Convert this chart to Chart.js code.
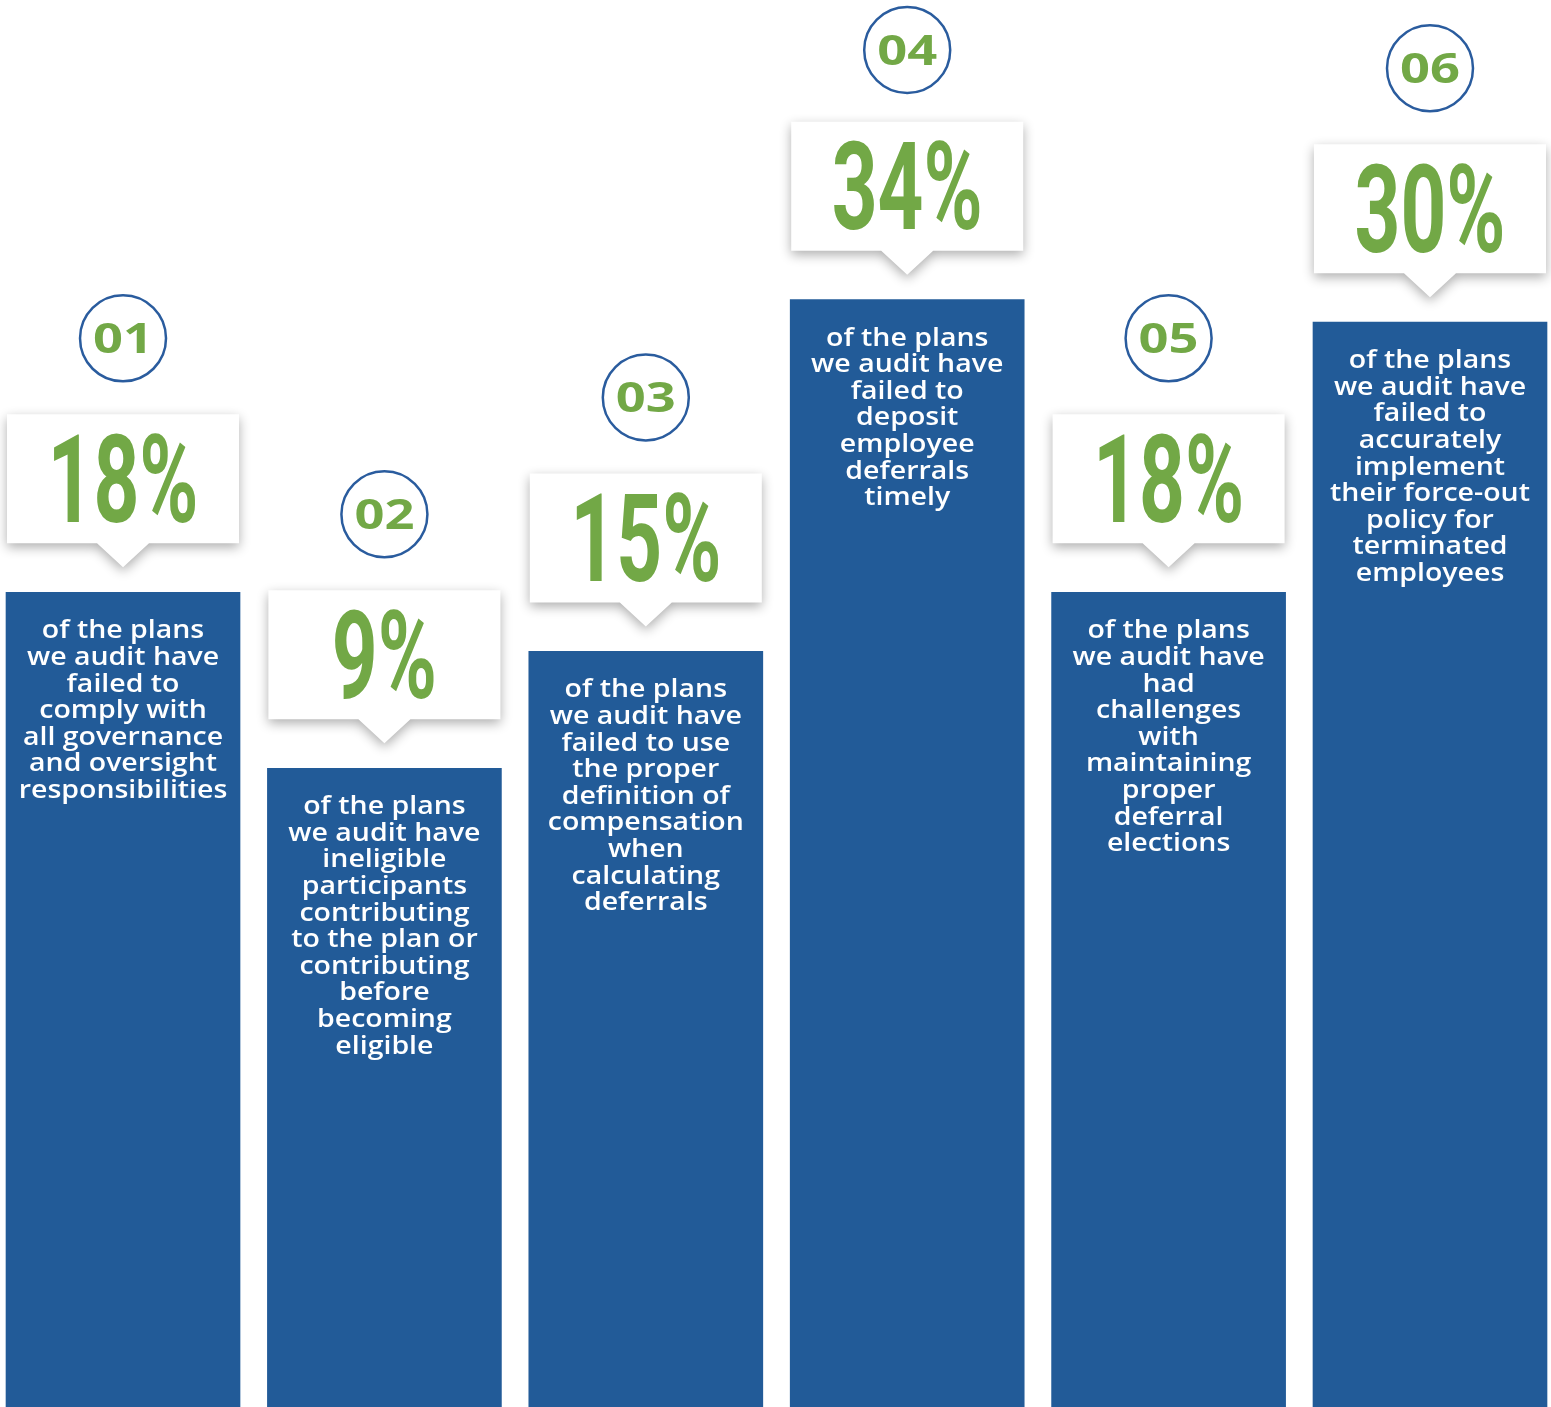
<!DOCTYPE html>
<html>
<head>
<meta charset="utf-8">
<script src="https://cdn.jsdelivr.net/npm/chart.js@4.4.1/dist/chart.umd.min.js"></script>
<style>
  html, body { margin: 0; padding: 0; background: #ffffff; }
  #wrap { width: 1551px; height: 1407px; }
</style>
</head>
<body>
<div id="wrap"><canvas id="auditChart" width="1551" height="1407"></canvas></div>
<script>
// step badges, headline percentages and column heights (0-100 of the picture height)
const stepNumbers = ['01', '02', '03', '04', '05', '06'];
const percentValues = [18, 9, 15, 34, 18, 30];
const barLevels = [57.9, 45.4, 53.7, 78.7, 57.9, 77.1];
const descriptions = [
  ['of the plans', 'we audit have', 'failed to', 'comply with', 'all governance', 'and oversight', 'responsibilities'],
  ['of the plans', 'we audit have', 'ineligible', 'participants', 'contributing', 'to the plan or', 'contributing', 'before', 'becoming', 'eligible'],
  ['of the plans', 'we audit have', 'failed to use', 'the proper', 'definition of', 'compensation', 'when', 'calculating', 'deferrals'],
  ['of the plans', 'we audit have', 'failed to', 'deposit', 'employee', 'deferrals', 'timely'],
  ['of the plans', 'we audit have', 'had', 'challenges', 'with', 'maintaining', 'proper', 'deferral', 'elections'],
  ['of the plans', 'we audit have', 'failed to', 'accurately', 'implement', 'their force-out', 'policy for', 'terminated', 'employees']
];

const BLUE = '#225b98';
const GREEN = '#72a846';
const RING = '#2a5c9e';

const BODY_FONT = '600 26px "Open Sans"';
const PCT_FONT = '700 122px Roboto';
const NUM_FONT = '700 41px "Open Sans"';

function scaledText(ctx, text, x, y, sx) {
  ctx.save();
  ctx.translate(x, y);
  ctx.scale(sx, 1);
  ctx.fillText(text, 0, 0);
  ctx.restore();
}

const calloutPlugin = {
  id: 'callouts',
  afterDatasetsDraw(chart) {
    const ctx = chart.ctx;
    const meta = chart.getDatasetMeta(0);

    ctx.save();
    ctx.font = BODY_FONT;
    const bodyScale = 196 / ctx.measureText('compensation').width;
    ctx.font = PCT_FONT;
    const pctScale = 151 / ctx.measureText('18%').width;
    ctx.font = NUM_FONT;
    const numScale = 60 / ctx.measureText('04').width;
    ctx.restore();

    meta.data.forEach((bar, i) => {
      const cx = bar.x;
      const top = bar.y;

      // text inside the column
      ctx.save();
      ctx.fillStyle = '#ffffff';
      ctx.font = BODY_FONT;
      ctx.textAlign = 'center';
      ctx.textBaseline = 'alphabetic';
      descriptions[i].forEach((line, j) => {
        scaledText(ctx, line, cx, top + 46 + j * 26.6, bodyScale);
      });
      ctx.restore();

      // white callout with pointer
      const bw = 232, bh = 129;
      const bx = cx - bw / 2;
      const by = top - 178;
      ctx.save();
      ctx.shadowColor = 'rgba(0, 0, 0, 0.32)';
      ctx.shadowBlur = 12;
      ctx.shadowOffsetY = 4;
      ctx.fillStyle = '#ffffff';
      ctx.beginPath();
      ctx.moveTo(bx, by);
      ctx.lineTo(bx + bw, by);
      ctx.lineTo(bx + bw, by + bh);
      ctx.lineTo(cx + 26, by + bh);
      ctx.lineTo(cx, top - 25);
      ctx.lineTo(cx - 26, by + bh);
      ctx.lineTo(bx, by + bh);
      ctx.closePath();
      ctx.fill();
      ctx.restore();

      ctx.save();
      ctx.fillStyle = GREEN;
      ctx.font = PCT_FONT;
      ctx.textAlign = 'center';
      ctx.textBaseline = 'alphabetic';
      scaledText(ctx, percentValues[i] + '%', cx, by + bh / 2 + 43, pctScale);
      ctx.restore();

      // numbered ring
      const cy = Math.max(top - 254, 50);
      ctx.save();
      ctx.beginPath();
      ctx.arc(cx, cy, 43, 0, Math.PI * 2);
      ctx.fillStyle = '#ffffff';
      ctx.fill();
      ctx.lineWidth = 2.5;
      ctx.strokeStyle = RING;
      ctx.stroke();
      ctx.fillStyle = GREEN;
      ctx.font = NUM_FONT;
      ctx.textAlign = 'center';
      ctx.textBaseline = 'alphabetic';
      scaledText(ctx, stepNumbers[i], cx, cy + 15, numScale);
      ctx.restore();
    });
  }
};

new Chart(document.getElementById('auditChart'), {
  type: 'bar',
  data: {
    datasets: [{
      data: barLevels.map((v, i) => ({ x: i, y: v })),
      backgroundColor: BLUE,
      borderWidth: 0,
      barThickness: 234
    }]
  },
  options: {
    responsive: false,
    animation: false,
    layout: { padding: 0 },
    plugins: {
      legend: { display: false },
      tooltip: { enabled: false }
    },
    scales: {
      x: { type: 'linear', display: false, offset: false, min: -0.4706, max: 5.4629 },
      y: { display: false, min: 0, max: 100 }
    }
  },
  plugins: [calloutPlugin]
});
</script>
</body>
</html>
